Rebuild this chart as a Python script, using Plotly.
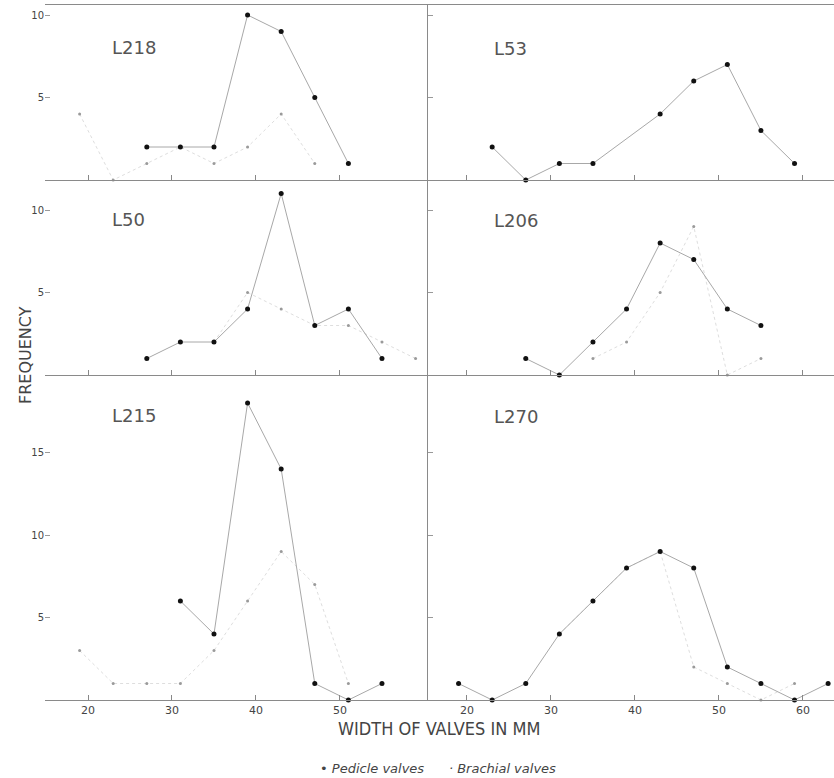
import plotly.graph_objects as go
from plotly.subplots import make_subplots

# ---- data (class midpoints in mm, frequencies) ----
panel_names = ["L218", "L53", "L50", "L206", "L215", "L270"]

l218_ped_x = [27, 31, 35, 39, 43, 47, 51]
l218_ped_y = [2, 2, 2, 10, 9, 5, 1]
l218_bra_x = [19, 23, 27, 31, 35, 39, 43, 47]
l218_bra_y = [4, 0, 1, 2, 1, 2, 4, 1]

l53_ped_x = [23, 27, 31, 35, 43, 47, 51, 55, 59]
l53_ped_y = [2, 0, 1, 1, 4, 6, 7, 3, 1]
l53_bra_x = []
l53_bra_y = []

l50_ped_x = [27, 31, 35, 39, 43, 47, 51, 55]
l50_ped_y = [1, 2, 2, 4, 11, 3, 4, 1]
l50_bra_x = [35, 39, 43, 47, 51, 55, 59]
l50_bra_y = [2, 5, 4, 3, 3, 2, 1]

l206_ped_x = [27, 31, 35, 39, 43, 47, 51, 55]
l206_ped_y = [1, 0, 2, 4, 8, 7, 4, 3]
l206_bra_x = [35, 39, 43, 47, 51, 55]
l206_bra_y = [1, 2, 5, 9, 0, 1]

l215_ped_x = [31, 35, 39, 43, 47, 51, 55]
l215_ped_y = [6, 4, 18, 14, 1, 0, 1]
l215_bra_x = [19, 23, 27, 31, 35, 39, 43, 47, 51]
l215_bra_y = [3, 1, 1, 1, 3, 6, 9, 7, 1]

l270_ped_x = [19, 23, 27, 31, 35, 39, 43, 47, 51, 55, 59, 63]
l270_ped_y = [1, 0, 1, 4, 6, 8, 9, 8, 2, 1, 0, 1]
l270_bra_x = [31, 35, 39, 43, 47, 51, 55, 59]
l270_bra_y = [4, 6, 8, 9, 2, 1, 0, 1]

left_xticks = [20, 30, 40, 50]
right_xticks = [20, 30, 40, 50, 60]
top_yticks = [5, 10]
mid_yticks = [5, 10]
bot_yticks = [5, 10, 15]

panels = [
    (1, 1, l218_ped_x, l218_ped_y, l218_bra_x, l218_bra_y),
    (1, 2, l53_ped_x, l53_ped_y, l53_bra_x, l53_bra_y),
    (2, 1, l50_ped_x, l50_ped_y, l50_bra_x, l50_bra_y),
    (2, 2, l206_ped_x, l206_ped_y, l206_bra_x, l206_bra_y),
    (3, 1, l215_ped_x, l215_ped_y, l215_bra_x, l215_bra_y),
    (3, 2, l270_ped_x, l270_ped_y, l270_bra_x, l270_bra_y),
]

fig = make_subplots(rows=3, cols=2, horizontal_spacing=0, vertical_spacing=0,
                    row_heights=[175, 195, 325], column_widths=[383, 406])

for r, c, px, py, bx, by in panels:
    if bx:
        fig.add_trace(go.Scatter(x=bx, y=by, mode="lines+markers",
                                 line=dict(color="#dedede", width=1, dash="dot"),
                                 marker=dict(color="#9a9a9a", size=3),
                                 cliponaxis=False, showlegend=False), row=r, col=c)
    fig.add_trace(go.Scatter(x=px, y=py, mode="lines+markers",
                             line=dict(color="#a8a8a8", width=1),
                             marker=dict(color="#111111", size=5),
                             cliponaxis=False, showlegend=False), row=r, col=c)

yranges = {1: [0, 175 / 16.5], 2: [0, 195 / 16.5], 3: [0, 325 / 16.5]}
yticks = {1: top_yticks, 2: mid_yticks, 3: bot_yticks}
tickfont = dict(family="DejaVu Sans", size=11, color="#444")

for r in (1, 2, 3):
    for c in (1, 2):
        xr = [14.88, 60.48] if c == 1 else [15.36, 63.7]
        xt = left_xticks if c == 1 else right_xticks
        fig.update_xaxes(row=r, col=c, range=xr, tickvals=xt,
                         showticklabels=(r == 3), ticks="inside", ticklen=5,
                         tickcolor="#888", showgrid=False, zeroline=False,
                         showline=True, linecolor="#8a8a8a", linewidth=1,
                         mirror=(r == 1), tickfont=tickfont)
        fig.update_yaxes(row=r, col=c, range=yranges[r], tickvals=yticks[r],
                         showticklabels=(c == 1), ticks="inside", ticklen=5,
                         tickcolor="#999", showgrid=False, zeroline=False,
                         showline=(c == 2), linecolor="#8a8a8a", linewidth=1,
                         tickfont=dict(family="DejaVu Sans", size=10, color="#444"))

W, H = 834, 778
L, R, T, B = 45, 0, 5, 78
pw, ph = W - L - R, H - T - B

def px2x(p):
    return (p - L) / pw

def py2y(p):
    return (H - B - p) / ph

label_pos = [(110, 47), (492, 48), (110, 220), (492, 221), (110, 415), (492, 416)]
annotations = []
for name, (lx, ly) in zip(panel_names, label_pos):
    annotations.append(dict(x=px2x(lx), y=py2y(ly), xref="paper", yref="paper",
                            text=name, showarrow=False, xanchor="left", yanchor="middle",
                            font=dict(family="DejaVu Sans", size=18, color="#555")))

annotations.append(dict(x=px2x(25), y=py2y(355), xref="paper", yref="paper",
                        text="FREQUENCY", textangle=-90, showarrow=False,
                        xanchor="center", yanchor="middle",
                        font=dict(family="DejaVu Sans", size=16, color="#444")))
annotations.append(dict(x=px2x(439), y=py2y(717), xref="paper", yref="paper",
                        text="WIDTH OF VALVES IN MM", showarrow=False,
                        xanchor="center", yanchor="top", borderpad=0,
                        font=dict(family="DejaVu Sans Condensed, DejaVu Sans", size=18, color="#444")))
annotations.append(dict(x=px2x(438), y=py2y(768), xref="paper", yref="paper",
                        text="<i>• Pedicle valves      · Brachial valves</i>", showarrow=False,
                        xanchor="center", yanchor="middle",
                        font=dict(family="DejaVu Sans", size=13, color="#444")))

fig.update_layout(width=W, height=H, margin=dict(l=L, r=R, t=T, b=B),
                  plot_bgcolor="white", paper_bgcolor="white",
                  annotations=annotations, showlegend=False)

fig.write_html("out.html", config={"displayModeBar": False},
               post_script="document.body.style.margin='0';")
